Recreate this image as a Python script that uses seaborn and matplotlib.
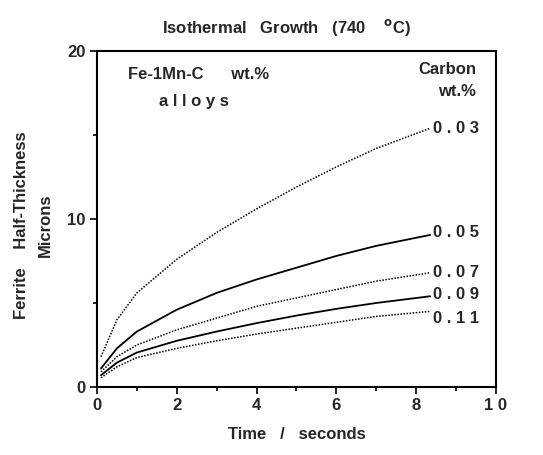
import numpy as np
import pandas as pd
import matplotlib
matplotlib.use("Agg")
import matplotlib.pyplot as plt
import seaborn as sns

# ---------------- data ----------------
time_s = [0.1, 0.5, 1, 2, 3, 4, 5, 6, 7, 8.35]
carbon = ["0.03", "0.05", "0.07", "0.09", "0.11"]
c003 = [1.8, 4.0, 5.6, 7.6, 9.2, 10.6, 11.9, 13.1, 14.2, 15.4]
c005 = [1.1, 2.3, 3.3, 4.6, 5.6, 6.4, 7.1, 7.8, 8.4, 9.05]
c007 = [0.9, 1.8, 2.5, 3.4, 4.1, 4.8, 5.3, 5.8, 6.3, 6.8]
c009 = [0.7, 1.45, 2.05, 2.75, 3.3, 3.8, 4.25, 4.65, 5.0, 5.4]
c011 = [0.55, 1.2, 1.75, 2.3, 2.75, 3.15, 3.5, 3.85, 4.2, 4.5]

series = [c003, c005, c007, c009, c011]
df = pd.DataFrame({
    "time": np.tile(time_s, len(carbon)),
    "thick": np.concatenate(series),
    "carbon": np.repeat(carbon, len(time_s)),
})

# ---------------- style ----------------
sns.set_style("ticks")
plt.rcParams["font.family"] = ["Liberation Sans", "DejaVu Sans"]
plt.rcParams["font.weight"] = "bold"

fig = plt.figure(figsize=(5.43, 4.55), dpi=100)
ax = fig.add_axes([0.1786, 0.1495, 0.7348, 0.7385])

dotted = {"0.03": True, "0.05": False, "0.07": True, "0.09": False, "0.11": True}
for c in carbon:
    sub = df[df["carbon"] == c]
    if dotted[c]:
        sns.lineplot(data=sub, x="time", y="thick", ax=ax, color="black",
                     linewidth=1.1, legend=False, linestyle=(0, (1, 1)))
    else:
        sns.lineplot(data=sub, x="time", y="thick", ax=ax, color="black",
                     linewidth=1.3, legend=False)

ax.set_xlim(0, 10)
ax.set_ylim(0, 20)
ax.set_xticks([0, 2, 4, 6, 8, 10])
ax.set_xticklabels(["0", "2", "4", "6", "8", "1 0"])
ax.set_xticks([1, 3, 5, 7, 9], minor=True)
ax.set_yticks([0, 10, 20])
ax.set_yticks([5, 15], minor=True)
ax.tick_params(which="both", direction="out", color="black", width=1.2,
               labelsize=12, pad=3)
ax.tick_params(which="major", length=5)
ax.tick_params(which="minor", length=3)
for s in ax.spines.values():
    s.set_linewidth(1.5)
    s.set_color("black")

fs = 12
ax.set_xlabel("Time   /   seconds", fontsize=fs, fontweight="bold", labelpad=10)
ax.set_ylabel("")
fig.text(0.040, 0.505, "Ferrite    Half-Thickness", rotation=90, ha="center",
         va="center", fontsize=fs, fontweight="bold")
fig.text(0.083, 0.505, "Microns", rotation=90, ha="center", va="center",
         fontsize=fs, fontweight="bold")
fig.text(0.527, 0.94, "Isothermal   Growth   (740    $^{\\rm o}$C)",
         ha="center", va="center", fontsize=fs, fontweight="bold")

# annotations inside the axes
ax.text(0.78, 18.6, "Fe-1Mn-C      wt.%", fontsize=fs, fontweight="bold",
        va="center")
ax.text(1.55, 17.0, "a l l o y s", fontsize=fs, fontweight="bold",
        va="center")
ax.text(9.5, 18.9, "Carbon", fontsize=fs, fontweight="bold", ha="right",
        va="center")
ax.text(9.5, 17.6, "wt.%", fontsize=fs, fontweight="bold", ha="right",
        va="center")

label_y = [15.4, 9.2, 6.8, 5.5, 4.1]
for c, yv in zip(carbon, label_y):
    ax.text(8.42, yv, " ".join(c), fontsize=fs, fontweight="bold",
            va="center", ha="left")

fig.savefig("out.png", dpi=100)
